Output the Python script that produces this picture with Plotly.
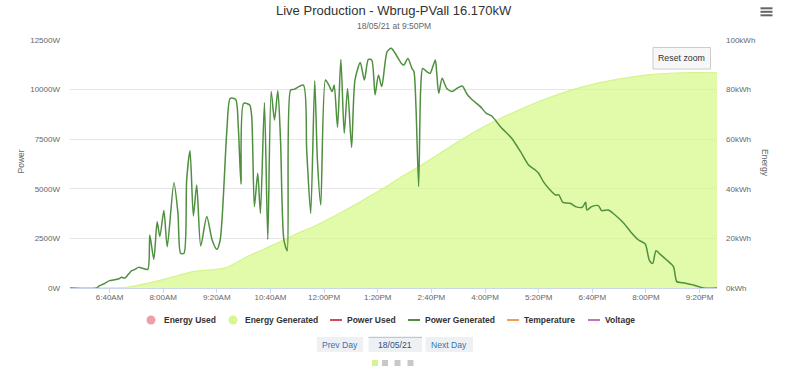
import plotly.graph_objects as go

# ---------------- data ----------------
DAY = "2021-05-18"

power_times = ["05:41", "06:21", "06:24", "06:31", "06:40", "06:46", "06:54", "06:58", "07:03", "07:08",
               "07:13", "07:18", "07:23", "07:28", "07:37", "07:40", "07:46", "07:51", "07:55", "08:01",
               "08:06", "08:16", "08:22", "08:26", "08:31", "08:35", "08:40", "08:45", "08:50", "08:56",
               "09:05", "09:13", "09:20", "09:25", "09:35", "09:40", "09:48", "09:52", "09:56", "10:00",
               "10:09", "10:12", "10:16", "10:21", "10:25", "10:31", "10:36", "10:41", "10:46", "10:51",
               "10:55", "11:00", "11:05", "11:10", "11:15", "11:29", "11:34", "11:40", "11:46", "11:50",
               "11:55", "12:02", "12:07", "12:12", "12:15", "12:20", "12:25", "12:30", "12:35", "12:41",
               "12:46", "12:54", "13:00", "13:06", "13:11", "13:16", "13:21", "13:26", "13:34", "13:40",
               "13:46", "13:56", "13:59", "14:05", "14:11", "14:14", "14:17", "14:21", "14:24", "14:27",
               "14:33", "14:38", "14:43", "14:46", "14:48", "14:51", "14:56", "15:03", "15:11", "15:18",
               "15:26", "15:33", "15:40", "15:53", "16:02", "16:10", "16:23", "16:40", "16:53", "17:05",
               "17:15", "17:20", "17:27", "17:37", "17:45", "17:50", "17:56", "18:07", "18:15", "18:25",
               "18:30", "18:32", "18:39", "18:49", "18:54", "19:04", "19:14", "19:27", "19:37", "19:49",
               "19:59", "20:05", "20:10", "20:15", "20:21", "20:31", "20:41", "20:46", "20:54", "21:11",
               "21:26", "21:46"]
power_w = [0, 0, 100, 200, 370, 403, 470, 540, 500, 690,
           870, 940, 1040, 1010, 940, 2670, 1445, 3340, 2590, 3900,
           2080, 5310, 3760, 1750, 1750, 5440, 6920, 3630, 5190, 2120,
           3600, 2420, 1950, 2420, 7960, 9560, 9510, 8130, 5240, 9310,
           9220, 8640, 4100, 5780, 3760, 9340, 2450, 9900, 8470, 9950,
           7460, 2420, 1880, 9980, 10010, 10230, 6960, 3760, 10450, 6450,
           4180, 10480, 10230, 9900, 10230, 8100, 11520, 7800, 10060, 7090,
           10480, 11360, 10480, 11520, 11490, 9730, 10740, 10150, 11910, 12080,
           11830, 11290, 11240, 11570, 11070, 10900, 9140, 5110, 9980, 11070,
           10900, 10820, 11240, 11490, 10820, 9810, 10570, 10060, 9900, 10060,
           10180, 9780, 9510, 9140, 8800, 8670, 8130, 7540, 6870, 6200,
           5950, 5780, 5360, 4940, 4690, 4690, 4320, 4270, 4100, 4070,
           4320, 3930, 4100, 4150, 3900, 3930, 3680, 3260, 2840, 2420,
           2220, 1410, 1240, 1880, 1710, 1410, 1080, 320, 270, 150,
           0, 0]

energy_times = ["05:41", "06:21", "07:05", "07:36", "08:01", "08:45", "09:20", "09:35", "10:05", "10:45",
                "11:15", "11:44", "12:14", "12:54", "13:34", "13:54", "14:04", "14:23", "15:08", "15:58",
                "16:48", "17:37", "18:27", "19:17", "20:06", "20:56", "21:46"]
energy_kwh = [0, 0, 0.3, 1.9, 3.5, 6.6, 7.5, 8.3, 12.6, 17.5,
              21.4, 24.7, 28.8, 34.8, 41.1, 44.6, 46.2, 49.2, 57.0, 65.0,
              71.5, 76.9, 81.2, 84.1, 86.0, 86.8, 86.8]

x_tick_times = ["06:40", "08:00", "09:20", "10:40", "12:00", "13:20",
                "14:40", "16:00", "17:20", "18:40", "20:00", "21:20"]
x_tick_labels = ["6:40AM", "8:00AM", "9:20AM", "10:40AM", "12:00PM", "1:20PM",
                 "2:40PM", "4:00PM", "5:20PM", "6:40PM", "8:00PM", "9:20PM"]
power_ticks = [0, 2500, 5000, 7500, 10000, 12500]
power_labels = ["0W", "2500W", "5000W", "7500W", "10000W", "12500W"]
energy_ticks = [0, 20, 40, 60, 80, 100]
energy_labels = ["0kWh", "20kWh", "40kWh", "60kWh", "80kWh", "100kWh"]

legend_names = ["Energy Used", "Energy Generated", "Power Used", "Power Generated", "Temperature", "Voltage"]
legend_kinds = ["circle", "circle", "line", "line", "line", "line"]
legend_colors = ["#eea0aa", "#d6f78e", "#d9475c", "#4f8f3f", "#f0a050", "#c275b8"]

title_text = "Live Production - Wbrug-PVall 16.170kW"
subtitle_text = "18/05/21 at 9:50PM"
button_texts = ["Prev Day", "18/05/21", "Next Day"]

# ---------------- layout helpers ----------------
W, H = 800, 370
L, R, T, B = 70, 717, 40, 288          # plot area in pixels
FONT = "Liberation Sans, Arial, Helvetica, sans-serif"


def px(x):
    return (x - L) / (R - L)


def py(y):
    return (B - y) / (B - T)


def ts(t):
    return f"{DAY} {t}"


fig = go.Figure()

fig.add_trace(go.Scatter(
    x=[ts(t) for t in energy_times], y=energy_kwh, yaxis="y",
    mode="lines", line=dict(color="#d3f48c", width=1.2, shape="spline", smoothing=0.6),
    fill="tozeroy", fillcolor="rgba(213,249,134,0.70)",
    name="Energy Generated", showlegend=False, hoverinfo="skip"))

fig.add_trace(go.Scatter(
    x=[ts(t) for t in power_times], y=power_w, yaxis="y2",
    mode="lines", line=dict(color="#4f8f3f", width=1.5, shape="spline", smoothing=0.7),
    name="Power Generated", showlegend=False))

shapes = []
annotations = []

# titles
annotations.append(dict(text=title_text, x=px(394), y=py(10), xref="paper", yref="paper",
                        showarrow=False, xanchor="center", yanchor="middle",
                        font=dict(family=FONT, size=13, color="#333333")))
annotations.append(dict(text=subtitle_text, x=px(394), y=py(25.5), xref="paper", yref="paper",
                        showarrow=False, xanchor="center", yanchor="middle",
                        font=dict(family=FONT, size=8.5, color="#666666")))
# axis titles
annotations.append(dict(text="Power", x=px(20.5), y=py(162), xref="paper", yref="paper",
                        showarrow=False, textangle=-90, xanchor="center", yanchor="middle",
                        font=dict(family=FONT, size=8.5, color="#666666")))
annotations.append(dict(text="Energy", x=px(765), y=py(163), xref="paper", yref="paper",
                        showarrow=False, textangle=90, xanchor="center", yanchor="middle",
                        font=dict(family=FONT, size=8.5, color="#666666")))

# legend (custom, Highcharts-like)
leg_y = 320
sym_x = [151, 233, 330, 408, 507, 588]
txt_x = [162, 243, 345, 423, 522, 603]
for name, kind, col, sx, tx in zip(legend_names, legend_kinds, legend_colors, sym_x, txt_x):
    if kind == "circle":
        r = 4.5
        shapes.append(dict(type="circle", xref="paper", yref="paper",
                           x0=px(sx - r), x1=px(sx + r), y0=py(leg_y + r), y1=py(leg_y - r),
                           fillcolor=col, line=dict(width=0)))
    else:
        shapes.append(dict(type="line", xref="paper", yref="paper",
                           x0=px(sx), x1=px(sx + 12), y0=py(leg_y), y1=py(leg_y),
                           line=dict(color=col, width=2)))
    annotations.append(dict(text=f"<b>{name}</b>", x=px(tx), y=py(leg_y), xref="paper", yref="paper",
                            showarrow=False, xanchor="left", yanchor="middle",
                            font=dict(family=FONT, size=8.5, color="#333333")))

# Reset zoom button
shapes.append(dict(type="rect", xref="paper", yref="paper",
                   x0=px(653), x1=px(710.5), y0=py(69), y1=py(47.5),
                   fillcolor="#f7f7f7", line=dict(color="#cccccc", width=1)))
annotations.append(dict(text="Reset zoom", x=px(681.7), y=py(58.3), xref="paper", yref="paper",
                        showarrow=False, xanchor="center", yanchor="middle",
                        font=dict(family=FONT, size=8.8, color="#333333")))

# hamburger menu
for yy in [8.3, 11.8, 15.3]:
    shapes.append(dict(type="line", xref="paper", yref="paper",
                       x0=px(760.5), x1=px(772.5), y0=py(yy), y1=py(yy),
                       line=dict(color="#666666", width=2)))

# bottom navigation buttons
btn_boxes = [(317, 363), (368.5, 422), (425.5, 473)]
btn_colors = ["#3871ae", "#34507a", "#3871ae"]
for (x0, x1), txt, col in zip(btn_boxes, button_texts, btn_colors):
    shapes.append(dict(type="rect", xref="paper", yref="paper",
                       x0=px(x0), x1=px(x1), y0=py(352), y1=py(337),
                       fillcolor="#eef1f4", line=dict(width=0)))
    annotations.append(dict(text=txt, x=px((x0 + x1) / 2), y=py(344.5), xref="paper", yref="paper",
                            showarrow=False, xanchor="center", yanchor="middle",
                            font=dict(family=FONT, size=8.6, color=col)))
shapes.append(dict(type="line", xref="paper", yref="paper",
                   x0=px(368.5), x1=px(422), y0=py(337.3), y1=py(337.3),
                   line=dict(color="#b9bcc0", width=1)))

# pagination squares
for i, x0 in enumerate([372, 382, 394.5, 407.5]):
    shapes.append(dict(type="rect", xref="paper", yref="paper",
                       x0=px(x0), x1=px(x0 + 6), y0=py(366), y1=py(360),
                       fillcolor="#d4f590" if i == 0 else "#c8c8c8", line=dict(width=0)))

fig.update_layout(
    width=W, height=H,
    margin=dict(l=L, r=W - R, t=T, b=H - B, pad=0),
    paper_bgcolor="white", plot_bgcolor="white",
    showlegend=False,
    font=dict(family=FONT, size=8, color="#666666"),
    xaxis=dict(
        type="date", range=[ts("05:41"), ts("21:46")],
        tickvals=[ts(t) for t in x_tick_times], ticktext=x_tick_labels,
        showgrid=False, showline=True, linecolor="#ccd6eb", linewidth=1,
        ticks="outside", ticklen=4, tickcolor="#ccd6eb", tickwidth=1,
        ticklabelstandoff=-3,
        tickfont=dict(family=FONT, size=8, color="#666666"),
        zeroline=False, fixedrange=True),
    yaxis=dict(
        side="right", range=[0, 100], tickvals=energy_ticks, ticktext=energy_labels,
        showgrid=False, zeroline=False, showline=False, ticks="",
        ticklabelstandoff=8,
        tickfont=dict(family=FONT, size=8, color="#666666")),
    yaxis2=dict(
        side="left", overlaying="y", range=[0, 12500], tickvals=power_ticks, ticktext=power_labels,
        showgrid=True, gridcolor="#e6e6e6", gridwidth=1, zeroline=False, showline=False, ticks="",
        ticklabelstandoff=9,
        tickfont=dict(family=FONT, size=8, color="#666666")),
    shapes=shapes,
    annotations=annotations,
)

# remove the default 8px page margin so the 800x370 figure fills the window exactly
fig.write_html("out.html", config={"displayModeBar": False},
               post_script="document.body.style.margin='0';document.body.style.overflow='hidden';")
